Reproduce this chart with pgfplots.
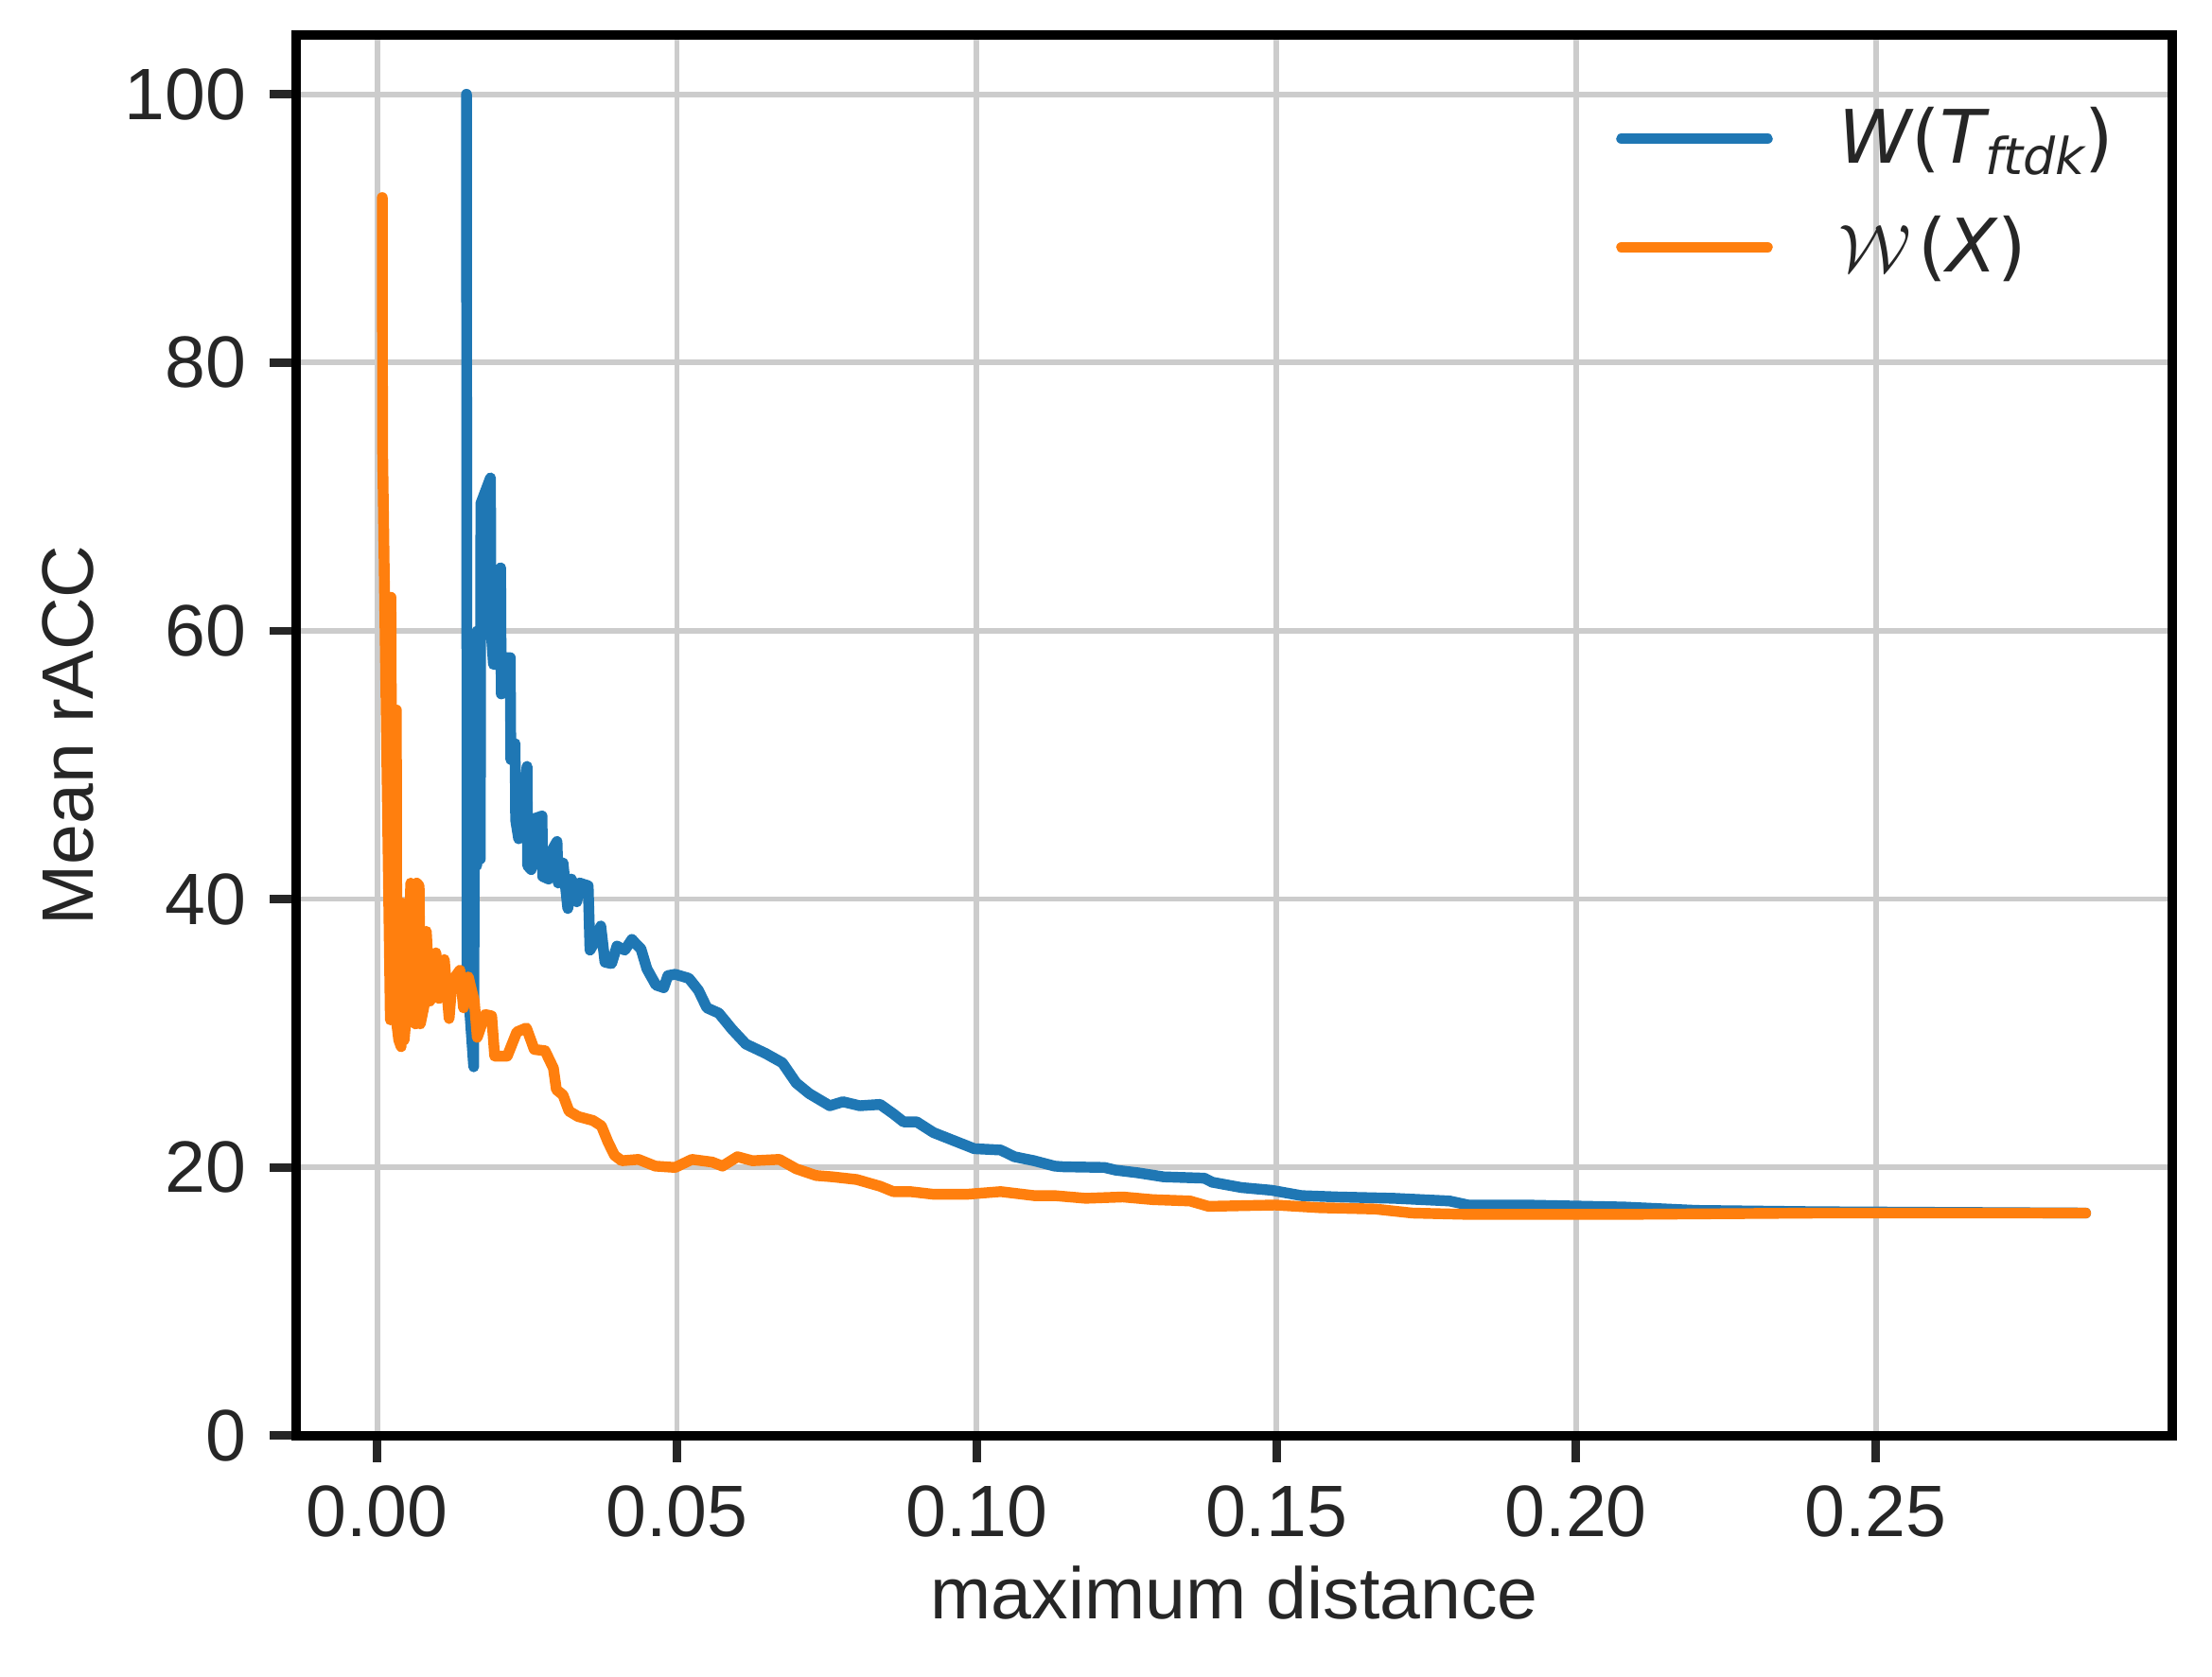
\documentclass[border=0pt]{standalone}
\usepackage{pgfplots}
\pgfplotsset{compat=1.18}
\usepackage{fontspec}
\setmainfont{Liberation Sans}
\newfontfamily\djv{DejaVu Sans}
\definecolor{mblue}{HTML}{1F77B4}
\definecolor{morange}{HTML}{FF7F0E}
\definecolor{txt}{HTML}{262626}
\definecolor{gridc}{HTML}{CCCCCC}
\newcommand{\lblfont}{\fontsize{15.5}{18}\selectfont}
\newcommand{\legfont}{\fontsize{15.7}{19}\selectfont}

\pgfplotstableread{
x y
0.0149 100.0
0.0150 34.5
0.0161 27.5
0.0162 43.0
0.0166 42.5
0.0167 60.0
0.0170 57.0
0.0172 43.0
0.0173 69.5
0.0189 71.4
0.0190 60.0
0.0194 57.5
0.0197 57.5
0.0199 64.0
0.0206 64.7
0.0207 55.3
0.0215 55.5
0.0216 58.0
0.0222 58.0
0.0223 50.4
0.0230 51.6
0.0231 45.9
0.0236 44.5
0.0242 46.0
0.0250 49.9
0.0251 42.5
0.0257 42.2
0.0262 46.0
0.0275 46.2
0.0276 41.7
0.0286 41.5
0.0290 43.5
0.0300 44.3
0.0302 41.2
0.0310 42.7
0.0318 39.3
0.0324 41.5
0.0333 39.8
0.0338 41.2
0.0352 41.0
0.0355 36.2
0.0365 37.0
0.0373 38.0
0.0380 35.3
0.0391 35.2
0.0400 36.5
0.0413 36.2
0.0425 37.0
0.0433 36.6
0.0440 36.3
0.0450 34.8
0.0465 33.6
0.0478 33.4
0.0485 34.3
0.0497 34.4
0.0520 34.1
0.0536 33.2
0.0550 31.9
0.0570 31.5
0.0592 30.3
0.0615 29.2
0.0648 28.5
0.0676 27.8
0.0699 26.3
0.0721 25.5
0.0755 24.6
0.0777 24.9
0.0805 24.6
0.0839 24.7
0.0861 24.0
0.0878 23.4
0.0900 23.4
0.0928 22.6
0.0962 22.0
0.0996 21.4
0.1040 21.3
0.1063 20.8
0.1096 20.5
0.1130 20.1
0.1145 20.05
0.1213 20.0
0.1232 19.8
0.1269 19.6
0.1312 19.3
0.1380 19.2
0.1393 18.9
0.1442 18.5
0.1492 18.3
0.1542 17.9
0.1603 17.8
0.1696 17.7
0.1789 17.5
0.1820 17.2
0.1913 17.2
0.2080 17.05
0.2200 16.8
0.2400 16.7
0.2850 16.6
}\blueT

\pgfplotstableread{
x y
0.00085 92.3
0.00090 73.7
0.0022 31.0
0.0023 62.5
0.0024 49.0
0.0027 31.0
0.0032 54.1
0.0033 30.6
0.0036 29.5
0.0040 29.0
0.0043 39.7
0.0045 29.5
0.0050 32.0
0.0056 41.2
0.0058 31.0
0.0064 30.7
0.0066 41.2
0.0070 41.0
0.0072 30.7
0.0078 32.0
0.0082 37.6
0.0088 32.4
0.0093 33.0
0.0098 36.0
0.0103 32.6
0.0108 33.0
0.0112 35.5
0.0120 31.1
0.0125 33.9
0.0138 34.7
0.0144 31.9
0.0152 34.2
0.0162 32.4
0.0167 29.7
0.0180 31.4
0.0191 31.3
0.0196 28.3
0.0217 28.3
0.0233 30.1
0.0249 30.4
0.0262 28.8
0.0280 28.7
0.0294 27.4
0.0299 25.8
0.0310 25.4
0.0320 24.2
0.0335 23.8
0.0360 23.5
0.0374 23.1
0.0385 21.9
0.0396 20.9
0.0408 20.5
0.0436 20.6
0.0464 20.1
0.0497 20.0
0.0525 20.6
0.0559 20.4
0.0576 20.1
0.0601 20.8
0.0626 20.5
0.0671 20.6
0.0699 19.9
0.0732 19.4
0.0760 19.3
0.0800 19.1
0.0839 18.6
0.0861 18.2
0.0889 18.2
0.0928 18.0
0.0984 18.0
0.1040 18.2
0.1096 17.9
0.1130 17.9
0.1182 17.7
0.1244 17.8
0.1294 17.6
0.1356 17.5
0.1387 17.1
0.1498 17.2
0.1572 17.0
0.1665 16.9
0.1727 16.6
0.1820 16.5
0.2080 16.5
0.2400 16.6
0.2850 16.6
}\orangeT

\begin{document}
\begin{tikzpicture}
\useasboundingbox (-63pt,-51.3pt) rectangle (407.4pt,305.4pt);
\begin{axis}[
  at={(0,0)}, anchor=south west,
  width=399pt, height=297.9pt, scale only axis,
  xmin=-0.0135, xmax=0.2995, ymin=0, ymax=104.4,
  xtick={0,0.05,0.1,0.15,0.2,0.25},
  ytick={0,20,40,60,80,100},
  minor tick num=0,
  xtick pos=left, ytick pos=left,
  tick align=outside,
  major tick length=5.6pt,
  tick style={color=txt, line width=1.8pt},
  axis line style={line width=2pt, black},
  grid=major,
  grid style={gridc, line width=1.15pt},
  /pgf/number format/assume math mode=true,
  xticklabel={\pgfmathprintnumber[fixed,fixed zerofill,precision=2]{\tick}},
  ticklabel style={font=\lblfont, text=txt, inner sep=0pt},
  xticklabel style={anchor=north, yshift=-4.8pt},
  yticklabel style={anchor=east, xshift=-4.9pt},
  xlabel={maximum distance},
  ylabel={Mean rACC},
  label style={font=\lblfont, text=txt},
  xlabel style={at={([yshift=-39pt]axis description cs:0.5,0)}, anchor=base, inner sep=0pt},
  ylabel style={at={([xshift=-43.2pt]axis description cs:0,0.5)}, anchor=base, inner sep=0pt},
  legend style={draw=none, fill=none, at={(rel axis cs:1,1)}, anchor=north east,
    xshift=-12.3pt, yshift=-15pt, inner sep=0pt, column sep=0pt, row sep=7.1pt,
    font=\legfont, text=txt,
    nodes={inner sep=0pt, text height=12pt, text depth=4pt}},
  legend cell align=left,
  legend image code/.code={\draw[#1, line cap=round] (0pt,1.2pt) -- (31pt,1.2pt); \path (0pt,1.2pt) (45pt,1.2pt);},
]
\addplot[mblue, line width=2.3pt, line join=round, line cap=round] table[x=x,y=y] {\blueT};
\addlegendentry{{\djv\itshape W}{\djv(}{\djv\itshape T\raisebox{-0.15em}{\fontsize{10.8}{11}\selectfont ftdk}}{\djv)}}
\addplot[morange, line width=2.3pt, line join=round, line cap=round] table[x=x,y=y] {\orangeT};
\addlegendentry{$\mathcal{W}$\hspace{1.5pt}{\djv(}{\djv\itshape X}{\djv)}}
\end{axis}
\end{tikzpicture}
\end{document}
